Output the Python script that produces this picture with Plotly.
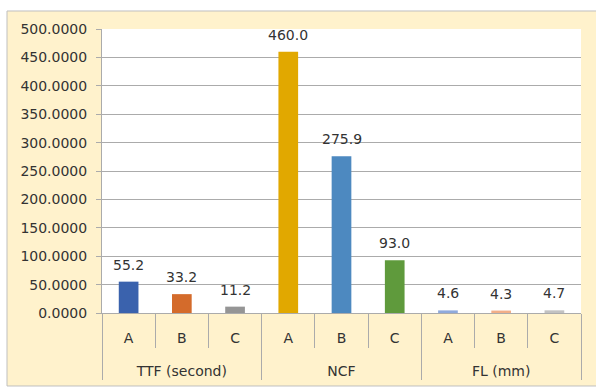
import plotly.graph_objects as go

groups = ["TTF (second)", "NCF", "FL (mm)"]
subcats = ["A", "B", "C"]
values = [55.2, 33.2, 11.2, 460.0, 275.9, 93.0, 4.6, 4.3, 4.7]
colors = ["#3A62AD", "#D46B2B", "#959595",
          "#E1A800", "#4D89C0", "#5F9A3C",
          "#8FAADC", "#F2AE88", "#C2C2C2"]
y_ticks = [0, 50, 100, 150, 200, 250, 300, 350, 400, 450, 500]

# layout helpers: group labels start with an empty line, and the inner labels
# get a taller (invisible) line box, so the group labels sit lower as in the reference
PAD = '<span style="font-size:22px;color:rgba(0,0,0,0)">.</span>'
x_outer = ["<br>" + g for g in groups for _ in subcats]
x_inner = [PAD + s + PAD for _ in groups for s in subcats]

FONT = "DejaVu Sans"
TXT = "#333333"
GRID = "#ABABAB"

fig = go.Figure()
fig.add_trace(go.Bar(
    x=[x_outer, x_inner],
    y=values,
    marker=dict(color=colors, line=dict(width=0)),
    width=0.37,
    hoverinfo="skip",
))

annotations = []
for i, v in enumerate(values):
    annotations.append(dict(
        x=i, y=v, xref="x", yref="y",
        text=f"{v:.1f}", showarrow=False,
        yanchor="middle", yshift=17,
        font=dict(family=FONT, size=14, color=TXT),
    ))

shapes = [
    dict(type="rect", xref="paper", yref="paper",
         x0=-0.1983, x1=1.07, y0=-0.257, y1=1.0634,
         fillcolor="#FFF2CC", line=dict(color="#BFBFBF", width=1),
         layer="below"),
    dict(type="rect", xref="paper", yref="paper",
         x0=0, x1=1, y0=0, y1=1,
         fillcolor="#FFFFFF", line=dict(width=0), layer="below"),
]

fig.update_layout(
    width=596, height=388,
    margin=dict(l=102, r=15, t=29, b=75, autoexpand=False),
    paper_bgcolor="#FFFFFF",
    plot_bgcolor="rgba(0,0,0,0)",
    showlegend=False,
    bargap=0.6,
    annotations=annotations,
    shapes=shapes,
    font=dict(family=FONT, size=14, color=TXT),
)
fig.update_yaxes(
    range=[0, 500], tickvals=y_ticks, tickformat=".4f",
    showgrid=True, gridcolor=GRID, gridwidth=1,
    showline=True, linecolor=GRID, linewidth=1,
    ticks="outside", ticklen=5, tickcolor=GRID,
    ticklabelstandoff=6, automargin=False,
    tickfont=dict(family=FONT, size=14, color=TXT),
    zeroline=False, fixedrange=True,
)
fig.update_xaxes(
    type="multicategory",
    showline=True, linecolor=GRID, linewidth=1,
    ticks="outside", ticklen=34, tickcolor=GRID,
    ticklabelstandoff=12, automargin=False,
    showdividers=True, dividercolor=GRID, dividerwidth=1,
    tickfont=dict(family=FONT, size=14, color=TXT),
    showgrid=False, fixedrange=True,
)

fig.write_html("out.html")
